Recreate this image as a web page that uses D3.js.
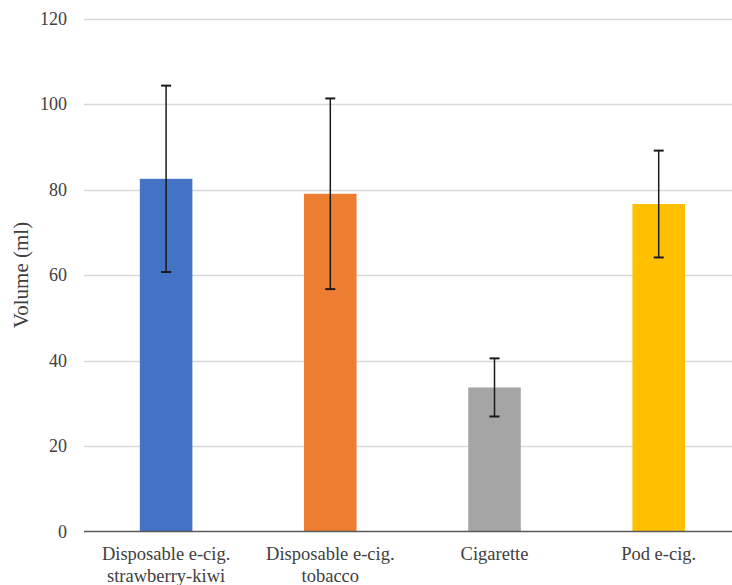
<!DOCTYPE html>
<html>
<head>
<meta charset="utf-8">
<script src="https://cdn.jsdelivr.net/npm/d3@7"></script>
</head>
<body style="margin:0">
<svg id="chart" width="732" height="585" font-family="Liberation Serif"></svg>
<script>
// Mean puff volume per product, with standard deviation
const categories = [
  ["Disposable e-cig.", "strawberry-kiwi"],
  ["Disposable e-cig.", "tobacco"],
  ["Cigarette"],
  ["Pod e-cig."]
];
const means = [82.5, 79.0, 33.7, 76.6];
const sds = [21.8, 22.3, 6.8, 12.5];
const colors = ["#4472C4", "#ED7D31", "#A5A5A5", "#FFC000"];
const yTicks = [0, 20, 40, 60, 80, 100, 120];
const yTitle = "Volume (ml)";

const FONT = "Liberation Serif";
const TEXT_COLOR = "#404040";

const svg = d3.select("#chart");
const margin = { top: 18.5, bottom: 53.5, left: 84 };
const height = 585;
const plotBottom = height - margin.bottom;

const x = d3.scaleBand()
  .domain(d3.range(categories.length))
  .range([margin.left, margin.left + 164.2 * categories.length])
  .paddingInner(0.68)
  .paddingOuter(0.34);

const y = d3.scaleLinear()
  .domain([0, 120])
  .range([plotBottom, margin.top]);

// Horizontal gridlines
svg.append("g")
  .selectAll("line")
  .data(yTicks.filter(t => t > 0))
  .join("line")
  .attr("x1", margin.left)
  .attr("x2", 732)
  .attr("y1", d => Math.round(y(d)) + 0.5)
  .attr("y2", d => Math.round(y(d)) + 0.5)
  .attr("stroke", "#D9D9D9")
  .attr("stroke-width", 1.5);

// Y axis tick labels
const yAxis = svg.append("g")
  .attr("transform", `translate(${margin.left},0)`)
  .call(d3.axisLeft(y).tickValues(yTicks).tickSize(0).tickPadding(17).tickFormat(d3.format("d")));
yAxis.attr("font-family", FONT).attr("font-size", 18);
yAxis.select(".domain").remove();
yAxis.selectAll("text")
  .attr("font-family", FONT)
  .attr("font-size", 18)
  .attr("fill", TEXT_COLOR);

// Bars
svg.append("g")
  .selectAll("rect")
  .data(means)
  .join("rect")
  .attr("x", (d, i) => x(i))
  .attr("width", x.bandwidth())
  .attr("y", d => y(d))
  .attr("height", d => plotBottom - y(d))
  .attr("fill", (d, i) => colors[i]);

// Baseline
svg.append("line")
  .attr("x1", margin.left)
  .attr("x2", 732)
  .attr("y1", plotBottom)
  .attr("y2", plotBottom)
  .attr("stroke", "#595959")
  .attr("stroke-width", 1.5);

// Error bars (mean ± SD)
const err = svg.append("g")
  .attr("stroke", "#1a1a1a")
  .attr("stroke-width", 1.5);
means.forEach((m, i) => {
  const cx = x(i) + x.bandwidth() / 2;
  const top = y(m + sds[i]);
  const bot = y(m - sds[i]);
  err.append("line").attr("x1", cx).attr("x2", cx).attr("y1", top).attr("y2", bot);
  err.append("line").attr("x1", cx - 5).attr("x2", cx + 5).attr("y1", top).attr("y2", top).attr("stroke-width", 2);
  err.append("line").attr("x1", cx - 5).attr("x2", cx + 5).attr("y1", bot).attr("y2", bot).attr("stroke-width", 2);
});

// Category labels, one text element per line
const xl = svg.append("g").attr("font-family", FONT).attr("font-size", 18.5).attr("fill", TEXT_COLOR);
categories.forEach((lines, i) => {
  const cx = x(i) + x.bandwidth() / 2;
  lines.forEach((ln, j) => {
    xl.append("text")
      .attr("x", cx)
      .attr("y", plotBottom + 28.5 + j * 21.7)
      .attr("text-anchor", "middle")
      .attr("font-family", FONT)
      .attr("font-size", 18.5)
      .text(ln);
  });
});

// Y axis title
svg.append("text")
  .attr("transform", `translate(28,${(margin.top + plotBottom) / 2}) rotate(-90)`)
  .attr("text-anchor", "middle")
  .attr("font-family", FONT)
  .attr("font-size", 21)
  .attr("fill", TEXT_COLOR)
  .text(yTitle);
</script>
</body>
</html>
